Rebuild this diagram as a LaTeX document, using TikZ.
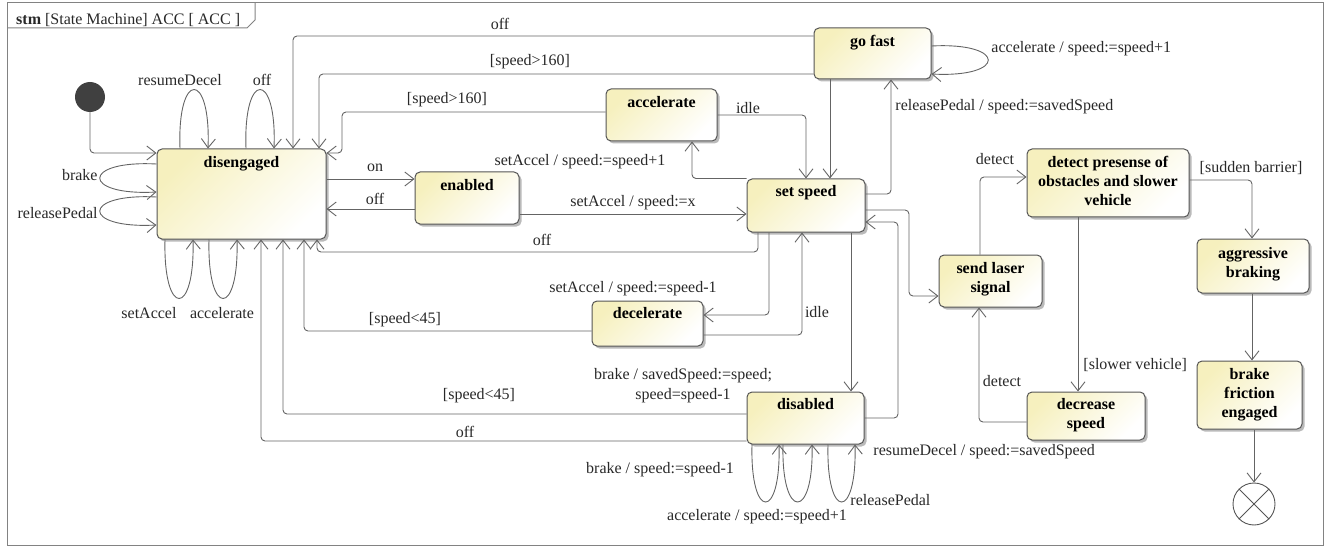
\documentclass[tikz,border=0pt]{standalone}
\usepackage{fontspec}
\setmainfont{Liberation Serif}
\usetikzlibrary{arrows.meta,shadows}
\definecolor{stfill}{RGB}{246,240,190}
\definecolor{stline}{RGB}{85,85,85}
\definecolor{trline}{RGB}{100,100,100}
\definecolor{txt}{RGB}{40,40,40}
\definecolor{framecol}{RGB}{130,130,130}
\definecolor{initcol}{RGB}{64,64,64}
\newcommand{\labfont}{\rmfamily\fontsize{16}{20}\selectfont}
\newcommand{\stfont}{\rmfamily\fontsize{16}{19}\selectfont\bfseries}
\tikzset{
  stbox/.style={draw=stline, line width=1pt, rounded corners=5pt, top color=stfill, bottom color=white, shading angle=45,
    drop shadow={shadow xshift=2.5pt, shadow yshift=-2.5pt, fill=black!45, opacity=0.6}, inner sep=0pt},
  stname/.style={anchor=north, font=\stfont, align=center, inner sep=0pt, text=black},
  tr/.style={draw=trline, line width=0.9pt, rounded corners=4pt, -{Straight Barb[length=9pt,width=14pt]}},
  lab/.style={font=\labfont, text=txt, inner sep=0pt},
}
\begin{document}
\begin{tikzpicture}[x=1pt,y=-1pt]
\useasboundingbox (0,0) rectangle (1330,548);
% frame
\draw[framecol, line width=1pt] (7,3) rectangle (1323,545);
\draw[framecol, line width=1pt] (7,28) -- (247,28) -- (255,20) -- (255,3);
\node[lab, anchor=base west] (title) at (16,25) {\textbf{stm} [State Machine] ACC [ ACC ]};

% states
\node[circle, fill=initcol, minimum size=30pt, inner sep=0pt] (init) at (90,97) {};
\node[stbox, minimum width=169pt, minimum height=90pt] (diseng) at (241.5,194) {};
\node[stname] (diseng-t) at ([yshift=-8pt]diseng.north) {disengaged};
\node[stbox, minimum width=104pt, minimum height=52pt] (enabled) at (467,198) {};
\node[stname] (enabled-t) at ([yshift=-8pt]enabled.north) {enabled};
\node[stbox, minimum width=111pt, minimum height=52pt] (accel) at (661.5,115) {};
\node[stname] (accel-t) at ([yshift=-8pt]accel.north) {accelerate};
\node[stbox, minimum width=117pt, minimum height=51pt] (gofast) at (872.5,53.5) {};
\node[stname] (gofast-t) at ([yshift=-8pt]gofast.north) {go fast};
\node[stbox, minimum width=118pt, minimum height=53pt] (setspeed) at (806,205.5) {};
\node[stname] (setspeed-t) at ([yshift=-7pt]setspeed.north) {set speed};
\node[stbox, minimum width=111pt, minimum height=45pt] (decel) at (647.5,323.5) {};
\node[stname] (decel-t) at ([yshift=-7pt]decel.north) {decelerate};
\node[stbox, minimum width=117pt, minimum height=52pt] (disabled) at (805.5,418) {};
\node[stname] (disabled-t) at ([yshift=-7pt]disabled.north) {disabled};
\node[stbox, minimum width=162pt, minimum height=68pt] (detect) at (1108,183) {};
\node[stname] (detect-t) at ([yshift=-8pt]detect.north) {detect presense of\\obstacles and slower\\vehicle};
\node[stbox, minimum width=103pt, minimum height=52pt] (sendlaser) at (990.5,281) {};
\node[stname] (sendlaser-t) at ([yshift=-8pt]sendlaser.north) {send laser\\signal};
\node[stbox, minimum width=118pt, minimum height=48pt] (decrease) at (1086,416) {};
\node[stname] (decrease-t) at ([yshift=-7pt]decrease.north) {decrease\\speed};
\node[stbox, minimum width=112pt, minimum height=54pt] (aggressive) at (1253,266) {};
\node[stname] (aggressive-t) at ([yshift=-9pt]aggressive.north) {aggressive\\braking};
\node[stbox, minimum width=105pt, minimum height=68pt] (brakefr) at (1249.5,395) {};
\node[stname] (brakefr-t) at ([yshift=-8pt]brakefr.north) {brake\\friction\\engaged};
\node[circle, draw=stline, line width=0.9pt, minimum size=42pt, inner sep=0pt] (final) at (1254,504) {};
\draw[stline, line width=0.9pt] (final.north west) -- (final.south east) (final.north east) -- (final.south west);

% transitions
\draw[tr] (init.south) |- (diseng.west |- 0,153);
\draw[tr] (180,0 |- diseng.north) .. controls (177,70) and (211,70) .. (208,0 |- diseng.north)
  node[lab] (l-resd) at (180,80) {resumeDecel};
\draw[tr] (246,0 |- diseng.north) .. controls (243,70) and (277,70) .. (274,0 |- diseng.north)
  node[lab] (l-off1) at (262,80) {off};
\draw[tr] (diseng.west |- 0,164) .. controls (81,160) and (81,196) .. (diseng.west |- 0,192)
  node[lab, anchor=east] (l-brake) at (98,175) {brake};
\draw[tr] (diseng.west |- 0,197) .. controls (81,193) and (81,229) .. (diseng.west |- 0,225)
  node[lab, anchor=east] (l-relp) at (98,213) {releasePedal};
\draw[tr] (165,0 |- diseng.south) .. controls (163,318) and (195,318) .. (193,0 |- diseng.south)
  node[lab] (l-seta) at (149,313) {setAccel};
\draw[tr] (209,0 |- diseng.south) .. controls (207,318) and (239,318) .. (237,0 |- diseng.south)
  node[lab] (l-acc) at (222,313) {accelerate};
\draw[tr] (diseng.east |- 0,179) -- (enabled.west |- 0,179) node[lab] (l-on) at (375,168) {on};
\draw[tr] (enabled.west |- 0,209) -- (diseng.east |- 0,209) node[lab] (l-off2) at (375,199) {off};
\draw[tr] (gofast.west |- 0,36) -| (293,0 |- diseng.north) node[lab] (l-off3) at (500,24) {off};
\draw[tr] (gofast.west |- 0,74) -| (319,0 |- diseng.north) node[lab] (l-g160a) at (530,62) {[speed>160]};
\draw[tr] (accel.west |- 0,112) -| (342,153) -- (diseng.east |- 0,153) node[lab] (l-g160b) at (447,100) {[speed>160]};
\draw[tr] (enabled.east |- 0,214) -- (setspeed.west |- 0,214) node[lab] (l-setx) at (633,203) {setAccel / speed:=x};
\draw[tr] (setspeed.north west) -| (692,0 |- accel.south) node[lab] (l-setp) at (580,162) {setAccel / speed:=speed+1};
\draw[tr] (accel.east |- 0,115) -| (806,0 |- setspeed.north) node[lab] (l-idle1) at (748,108) {idle};
\draw[tr] (830,0 |- gofast.south) -- (830,0 |- setspeed.north);
\draw[tr] (setspeed.east |- 0,194) -| (891,0 |- gofast.south)
  node[lab, anchor=west] (l-relps) at (895,107) {releasePedal / speed:=savedSpeed};
\draw[tr] (gofast.east |- 0,46) .. controls (1007,42) and (1007,78) .. (gofast.east |- 0,74)
  node[lab, anchor=west] (l-accg) at (991,49) {accelerate / speed:=speed+1};
\draw[tr] (758,0 |- setspeed.south) |- (317,252) -- (317,0 |- diseng.south) node[lab] (l-off4) at (542,240) {off};
\draw[tr] (769,0 |- setspeed.south) |- (decel.east |- 0,315) node[lab] (l-setm) at (633,289) {setAccel / speed:=speed-1};
\draw[tr] (decel.east |- 0,335) -| (802,0 |- setspeed.south) node[lab] (l-idle2) at (817,312) {idle};
\draw[tr] (decel.west |- 0,331) -| (304,0 |- diseng.south) node[lab] (l-l45a) at (405,320) {[speed<45]};
\draw[tr] (851,0 |- setspeed.south) -- (851,0 |- disabled.north)
  node[lab, align=center] (l-brks) at (683,386) {brake / savedSpeed:=speed;\\speed=speed-1};
\draw[tr] (disabled.west |- 0,414) -| (283,0 |- diseng.south) node[lab] (l-l45b) at (479,396) {[speed<45]};
\draw[tr] (disabled.west |- 0,441) -| (261,0 |- diseng.south) node[lab] (l-off5) at (465,432) {off};
\draw[tr] (disabled.east |- 0,418) -| (898,222) -- (setspeed.east |- 0,222)
  node[lab, anchor=west] (l-resds) at (873,452) {resumeDecel / speed:=savedSpeed};
\draw[tr] (752,0 |- disabled.south) .. controls (750,521) and (781,521) .. (779,0 |- disabled.south)
  node[lab] (l-brkd) at (660,470) {brake / speed:=speed-1};
\draw[tr] (783,0 |- disabled.south) .. controls (781,521) and (814,521) .. (812,0 |- disabled.south)
  node[lab] (l-accd) at (757,517) {accelerate / speed:=speed+1};
\draw[tr] (828,0 |- disabled.south) .. controls (826,521) and (857,521) .. (855,0 |- disabled.south)
  node[lab, anchor=west] (l-relpd) at (850,500) {releasePedal};
\draw[tr] (setspeed.east |- 0,210) -| (909,296) -- (sendlaser.west |- 0,296);
\draw[tr] (980,0 |- sendlaser.north) |- (detect.west |- 0,177) node[lab] (l-det1) at (995,159) {detect};
\draw[tr] (1078,0 |- detect.south) -- (1078,0 |- decrease.north)
  node[lab, anchor=west] (l-slow) at (1083,365) {[slower vehicle]};
\draw[tr] (decrease.west |- 0,422) -| (979,0 |- sendlaser.south) node[lab] (l-det2) at (1002,381) {detect};
\draw[tr] (detect.east |- 0,180) -| (1252,0 |- aggressive.north) node[lab] (l-sudden) at (1251,168) {[sudden barrier]};
\draw[tr] (1252,0 |- aggressive.south) -- (1252,0 |- brakefr.north);
\draw[tr] (final.north |- brakefr.south) -- (final.north);
\end{tikzpicture}
\end{document}
